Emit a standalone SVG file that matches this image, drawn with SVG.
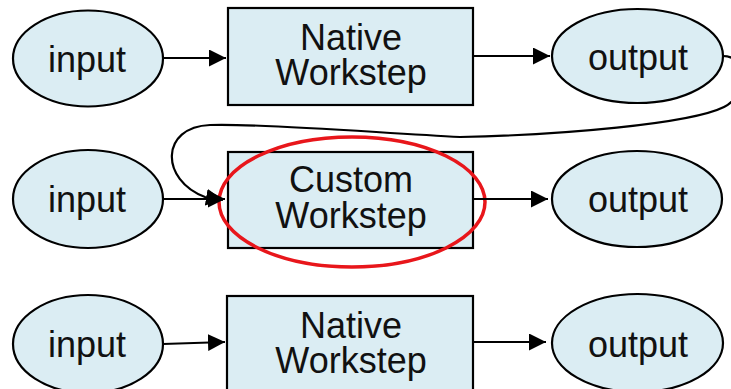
<svg xmlns="http://www.w3.org/2000/svg" width="731" height="389" viewBox="0 0 731 389">
<defs>
<style>
.n{fill:#dbedf3;stroke:#000;stroke-width:2.2}
.t{font-family:"Liberation Sans",Arial,sans-serif;font-size:36px;fill:#111;text-anchor:middle}
.c{fill:none;stroke:#000;stroke-width:2.2}
</style>
<marker id="ah" markerUnits="userSpaceOnUse" markerWidth="18" markerHeight="18" refX="17" refY="8.5" orient="auto">
<path d="M0,0 L17,8.5 L0,17 z" fill="#000"/>
</marker>
</defs>
<rect width="731" height="389" fill="#fff"/>
<g id="in1"><ellipse class="n" cx="88" cy="58.5" rx="75" ry="48"/><text class="t" x="87" y="72">input</text></g>
<g id="ws1"><rect class="n" x="228" y="8" width="245" height="97"/><text class="t" x="351" y="50">Native</text><text class="t" x="351" y="85">Workstep</text></g>
<g id="out1"><ellipse class="n" cx="637.5" cy="56" rx="85.5" ry="47"/><text class="t" x="638" y="70">output</text></g>
<g id="in2"><ellipse class="n" cx="88" cy="199" rx="75" ry="49"/><text class="t" x="87" y="212">input</text></g>
<g id="ws2"><rect class="n" x="228" y="152" width="245" height="96"/><text class="t" x="351" y="192">Custom</text><text class="t" x="351" y="228">Workstep</text></g>
<g id="out2"><ellipse class="n" cx="637" cy="199" rx="85" ry="48"/><text class="t" x="638" y="212">output</text></g>
<g id="in3"><ellipse class="n" cx="88" cy="344" rx="75" ry="49"/><text class="t" x="87" y="357">input</text></g>
<g id="ws3"><rect class="n" x="227" y="296" width="246" height="100"/><text class="t" x="351" y="338">Native</text><text class="t" x="351" y="373">Workstep</text></g>
<g id="out3"><ellipse class="n" cx="637.5" cy="343" rx="85.5" ry="49"/><text class="t" x="638" y="357">output</text></g>
<g id="highlight"><ellipse cx="352" cy="202" rx="133" ry="65" fill="none" stroke="#e8161b" stroke-width="3.5"/></g>
<g id="connectors">
<line class="c" x1="163" y1="58" x2="226" y2="58" marker-end="url(#ah)"/>
<line class="c" x1="473" y1="56" x2="550" y2="56" marker-end="url(#ah)"/>
<line class="c" x1="163" y1="199" x2="225" y2="199" marker-end="url(#ah)"/>
<line class="c" x1="473" y1="199" x2="548" y2="199" marker-end="url(#ah)"/>
<line class="c" x1="163" y1="344" x2="225" y2="342" marker-end="url(#ah)"/>
<line class="c" x1="473" y1="342" x2="546" y2="342" marker-end="url(#ah)"/>
<path class="c" d="M723,56 C748,56 748,95 724,107 C690,124 560,135 460,137 C380,133 260,123 210,125 C160,127 160,180 205,197 L223,200" marker-end="url(#ah)"/>
</g>
</svg>
